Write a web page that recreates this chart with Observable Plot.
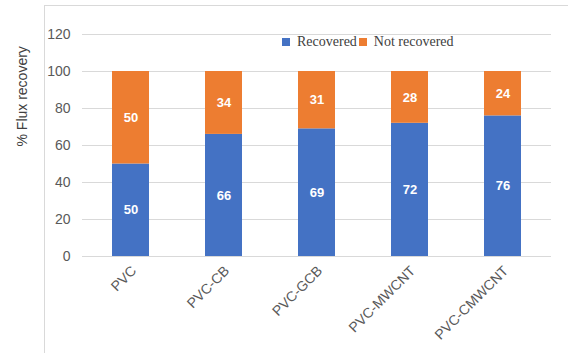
<!DOCTYPE html>
<html>
<head>
<meta charset="utf-8">
<script src="https://cdn.jsdelivr.net/npm/d3@7"></script>
<script src="https://cdn.jsdelivr.net/npm/@observablehq/plot@0.6"></script>
<style>
  html, body { margin: 0; padding: 0; background: #fff; }
  #wrap { position: relative; width: 568px; height: 353px; overflow: hidden; font-family: "Liberation Sans", Arial, sans-serif; }
  #box { position: absolute; left: 44px; top: 5px; width: 600px; height: 400px; border-left: 1px solid #d9d9d9; border-top: 1px solid #d9d9d9; }
  #chart { position: absolute; left: 0; top: 0; }
  #legend { position: absolute; left: 282px; top: 34px; font-family: "Liberation Serif", "Times New Roman", serif; font-size: 14px; color: #404040; display: flex; align-items: center; white-space: nowrap; }
  #legend .sw { display: inline-block; width: 8px; height: 8px; margin-right: 7px; }
</style>
</head>
<body>
<div id="wrap">
  <div id="box"></div>
  <div id="chart"></div>
  <div id="legend"></div>
</div>
<script>
const categories = ["PVC", "PVC-CB", "PVC-GCB", "PVC-MWCNT", "PVC-CMWCNT"];
const recovered = [50, 66, 69, 72, 76];
const notRecovered = [50, 34, 31, 28, 24];
const seriesNames = ["Recovered", "Not recovered"];
const seriesColors = ["#4472C4", "#ED7D31"];
const yTicks = [0, 20, 40, 60, 80, 100, 120];

const rows = [];
categories.forEach((c, i) => {
  rows.push({cat: c, series: seriesNames[0], value: recovered[i]});
  rows.push({cat: c, series: seriesNames[1], value: notRecovered[i]});
});

const chart = Plot.plot({
  width: 568,
  height: 353,
  marginLeft: 82,
  marginRight: 17,
  marginTop: 34,
  marginBottom: 97,
  style: {fontFamily: "'Liberation Sans', Arial, sans-serif", background: "transparent"},
  x: {domain: categories, paddingInner: 0.6, paddingOuter: 0.3, label: null},
  y: {domain: [0, 120], label: null},
  color: {domain: seriesNames, range: seriesColors},
  marks: [
    Plot.gridY(yTicks, {stroke: "#d9d9d9", strokeOpacity: 1, strokeWidth: 1}),
    Plot.axisY(yTicks, {tickSize: 0, tickPadding: 12, fontSize: 14, fill: "#595959", label: null}),
    Plot.axisX({tickSize: 0, tickPadding: 12, dx: 3, tickRotate: -45, fontSize: 14, fill: "#595959", label: null}),
    Plot.barY(rows, {x: "cat", y: "value", fill: "series", order: seriesNames}),
    Plot.text(rows, Plot.stackY({x: "cat", y: "value", z: "series", order: seriesNames, text: d => String(d.value), fill: "white", fontWeight: "bold", fontSize: 13})),
    Plot.text(["% Flux recovery"], {frameAnchor: "left", dx: -60, dy: 1, rotate: -90, fontSize: 14, fill: "#404040", text: d => d})
  ]
});
document.getElementById("chart").appendChild(chart);

const legend = document.getElementById("legend");
seriesNames.forEach((s, i) => {
  const sw = document.createElement("span");
  sw.className = "sw";
  sw.style.background = seriesColors[i];
  legend.appendChild(sw);
  const t = document.createElement("span");
  t.textContent = s;
  t.style.marginRight = i === 0 ? "2px" : "0";
  legend.appendChild(t);
});
</script>
</body>
</html>
